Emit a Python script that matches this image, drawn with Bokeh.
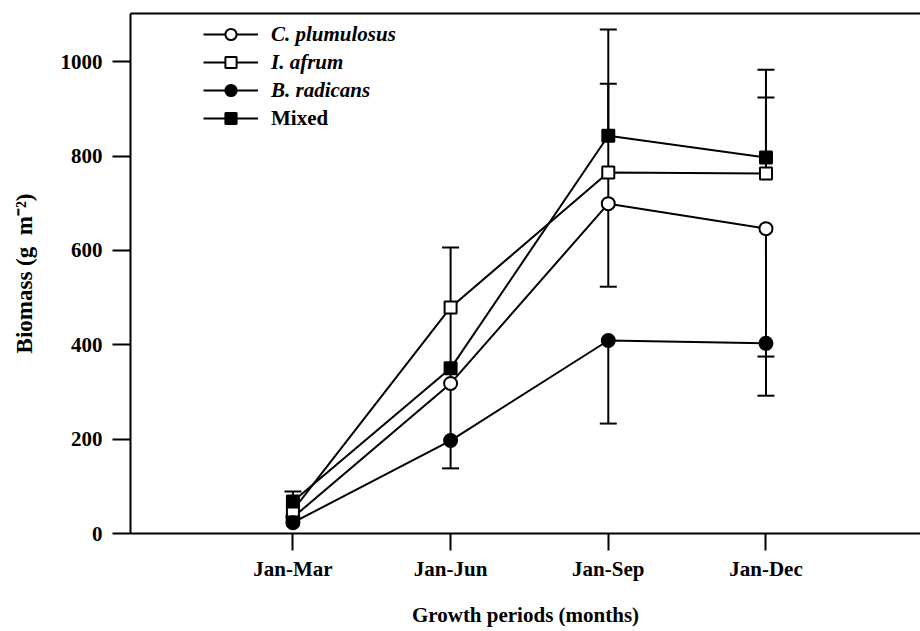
from bokeh.plotting import figure
from bokeh.models import (Range1d, FixedTicker, LinearAxis, Legend, LegendItem,
                          ColumnDataSource, Whisker, TeeHead)
from bokeh.embed import file_html
from bokeh.resources import INLINE

# ---------------- data ----------------
periods = ["Jan-Mar", "Jan-Jun", "Jan-Sep", "Jan-Dec"]
x_pos = [1, 2, 3, 4]
y_ticks = [0, 200, 400, 600, 800, 1000]

c_plumulosus = [34, 318, 699, 646]
i_afrum = [49, 479, 765, 763]
b_radicans = [23, 197, 409, 403]
mixed = [68, 350, 843, 797]

# outer error bars (drawn with caps)
c_plumulosus_err_up = [0, 0, 0, 0]
c_plumulosus_err_down = [0, 0, 176, 271]
i_afrum_err_up = [0, 127, 188, 161]
i_afrum_err_down = [0, 0, 0, 0]
b_radicans_err_up = [0, 0, 0, 0]
b_radicans_err_down = [0, 59, 176, 111]
mixed_err_up = [21, 0, 225, 186]
mixed_err_down = [0, 0, 0, 0]

# inner parts of the error bars hidden between markers (no caps)
c_plumulosus_stem_up = [0, 0, 66, 0]
c_plumulosus_stem_down = [0, 121, 0, 0]
i_afrum_stem_down = [0, 129, 0, 0]
mixed_stem_down = [0, 32, 0, 0]

FONT = "Liberation Serif"
FS = "21px"

p = figure(width=920, height=631, output_backend="svg", toolbar_location=None,
           x_range=Range1d(-0.03, 4.98), y_range=Range1d(0, 1102),
           min_border_left=130, min_border_right=0, min_border_top=13,
           min_border_bottom=98)
p.outline_line_color = None
p.xgrid.visible = False
p.ygrid.visible = False
p.background_fill_color = "white"
p.border_fill_color = "white"

# axes
p.xaxis.ticker = FixedTicker(ticks=x_pos)
p.xaxis.major_label_overrides = {x: lab for x, lab in zip(x_pos, periods)}
p.yaxis.ticker = FixedTicker(ticks=y_ticks)
p.xaxis.axis_label = "Growth periods (months)"
p.yaxis.axis_label = "Biomass (g\u00a0\u00a0m\u207b\u00b2)"
for ax in (p.xaxis[0], p.yaxis[0]):
    ax.axis_line_width = 2
    ax.axis_line_color = "black"
    ax.major_tick_line_width = 2
    ax.major_tick_line_color = "black"
    ax.major_tick_in = 0
    ax.minor_tick_line_color = None
    ax.major_label_text_font = FONT
    ax.major_label_text_font_size = FS
    ax.major_label_text_font_style = "bold"
    ax.major_label_text_color = "black"
    ax.axis_label_text_font = FONT
    ax.axis_label_text_font_size = FS
    ax.axis_label_text_font_style = "bold"
    ax.axis_label_text_color = "black"
p.yaxis.axis_label_text_font_size = "23px"
p.xaxis.major_tick_out = 17
p.yaxis.major_tick_out = 18
p.xaxis.major_label_standoff = 6
p.yaxis.major_label_standoff = 10
p.xaxis.axis_label_standoff = 19
p.yaxis.axis_label_standoff = 21

top_axis = LinearAxis(ticker=FixedTicker(ticks=[]), axis_line_width=2,
                      axis_line_color="black", major_tick_line_color=None,
                      minor_tick_line_color=None,
                      major_label_text_font_size="0px")
p.add_layout(top_axis, "above")

series = [
    ("C. plumulosus", c_plumulosus, c_plumulosus_err_up, c_plumulosus_err_down,
     c_plumulosus_stem_up, c_plumulosus_stem_down, "circle", "white", 13),
    ("I. afrum", i_afrum, i_afrum_err_up, i_afrum_err_down,
     [0] * 4, i_afrum_stem_down, "square", "white", 12),
    ("B. radicans", b_radicans, b_radicans_err_up, b_radicans_err_down,
     [0] * 4, [0] * 4, "circle", "black", 13),
    ("Mixed", mixed, mixed_err_up, mixed_err_down,
     [0] * 4, mixed_stem_down, "square", "black", 12),
]


def add_whisker(ys, errs, up, head):
    xs = [x for x, e in zip(x_pos, errs) if e > 0]
    if not xs:
        return
    base_y = [y for y, e in zip(ys, errs) if e > 0]
    ev = [e for e in errs if e > 0]
    if up:
        lo, hi = base_y, [b + e for b, e in zip(base_y, ev)]
    else:
        lo, hi = [b - e for b, e in zip(base_y, ev)], base_y
    src = ColumnDataSource(dict(x=xs, lower=lo, upper=hi))
    w = Whisker(base="x", lower="lower", upper="upper", source=src,
                dimension="height", line_width=2, line_color="black")
    w.upper_head = None
    w.lower_head = None
    if head:
        th = TeeHead(size=17, line_width=2, line_color="black")
        if up:
            w.upper_head = th
        else:
            w.lower_head = th
    p.add_layout(w)


line_renderers = {}
for name, ys, eu, ed, su, sd, marker, fill, size in series:
    line_renderers[name] = p.line(x_pos, ys, line_color="black", line_width=2)
    add_whisker(ys, eu, True, True)
    add_whisker(ys, ed, False, True)
    add_whisker(ys, su, True, False)
    add_whisker(ys, sd, False, False)

marker_renderers = {}
for name, ys, eu, ed, su, sd, marker, fill, size in series:
    marker_renderers[name] = p.scatter(x_pos, ys, marker=marker, size=size,
                                       fill_color=fill, line_color="black",
                                       line_width=2)


def make_legend(names, style, loc):
    items = [LegendItem(label=n, renderers=[line_renderers[n], marker_renderers[n]])
             for n in names]
    lg = Legend(items=items, location=loc, orientation="vertical",
                border_line_color=None, background_fill_alpha=0,
                padding=0, margin=0, spacing=0,
                glyph_width=55, glyph_height=28, label_height=28,
                label_standoff=13,
                label_text_font=FONT, label_text_font_size=FS,
                label_text_font_style=style, label_text_color="black")
    p.add_layout(lg, "center")


make_legend(["C. plumulosus", "I. afrum", "B. radicans"], "bold italic", (73, 429))
make_legend(["Mixed"], "bold", (73, 401))

open("out.html", "w").write(file_html(p, INLINE))
